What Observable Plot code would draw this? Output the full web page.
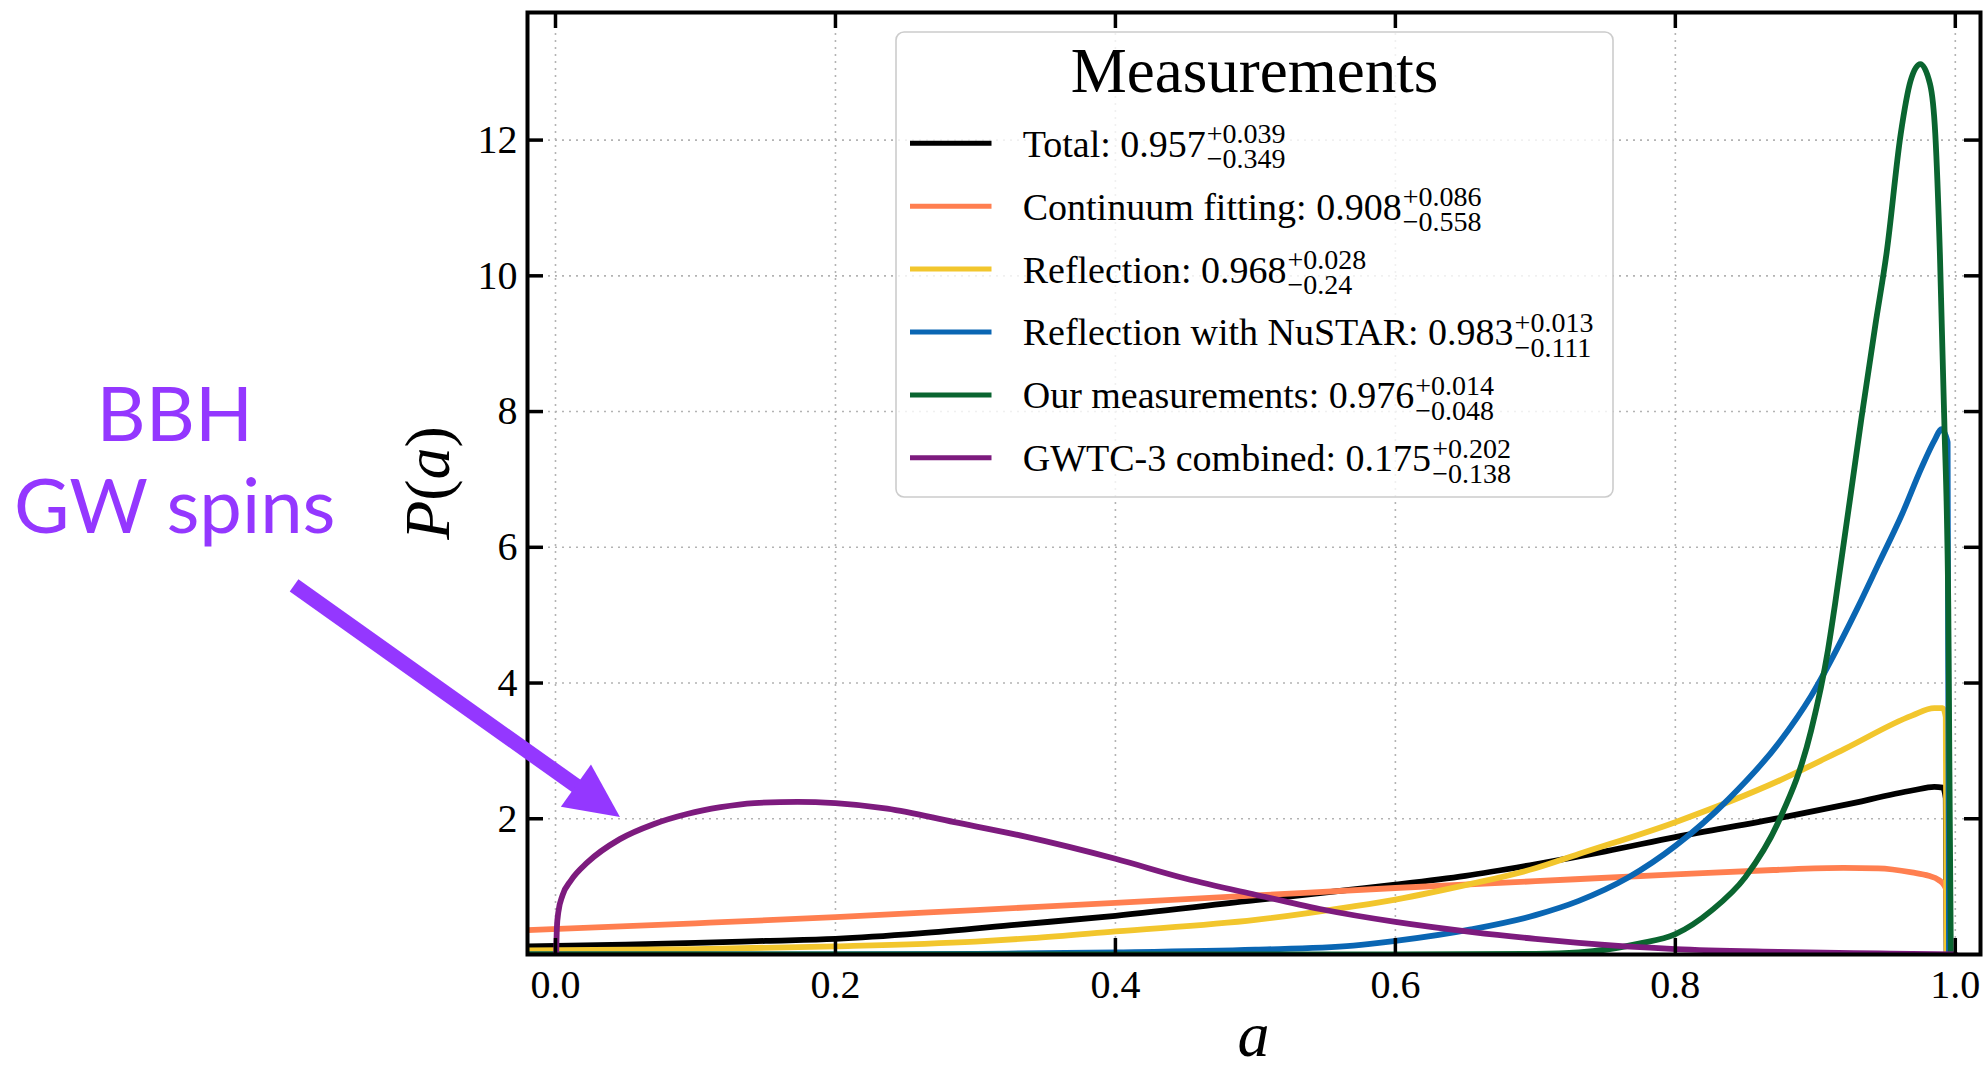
<!DOCTYPE html>
<html>
<head>
<meta charset="utf-8">
<script src="https://cdn.jsdelivr.net/npm/d3@7"></script>
<script src="https://cdn.jsdelivr.net/npm/@observablehq/plot@0.6"></script>
<style>
  html, body { margin: 0; padding: 0; background: #fff; }
  #chart { position: relative; width: 1988px; height: 1068px; }
</style>
</head>
<body>
<div id="chart"></div>
<script>
// ---------------- data ----------------
const seriesNames = ["Total", "Continuum fitting", "Reflection", "Reflection with NuSTAR", "Our measurements", "GWTC-3 combined"];
const medians = ["0.957", "0.908", "0.968", "0.983", "0.976", "0.175"];
const errPlus = ["+0.039", "+0.086", "+0.028", "+0.013", "+0.014", "+0.202"];
const errMinus = ["\u22120.349", "\u22120.558", "\u22120.24", "\u22120.111", "\u22120.048", "\u22120.138"];
const seriesColors = ["#000000", "#ff7f50", "#f2c62d", "#0a66b3", "#0a6530", "#7d1b7e"];

const xTicks = [0, 0.2, 0.4, 0.6, 0.8, 1.0];
const yTicks = [2, 4, 6, 8, 10, 12];

// [a, P(a)]
const total = [[-0.02,0.12],[0.05,0.145],[0.1,0.17],[0.15,0.2],[0.2,0.23],[0.26,0.31],[0.33,0.44],[0.4,0.57],[0.5,0.80],[0.57,0.96],[0.6,1.03],[0.65,1.16],[0.7,1.33],[0.75,1.52],[0.8,1.73],[0.874,2.01],[0.92,2.2],[0.97,2.42],[0.985,2.47],[0.991,2.46],[0.9932,2.3],[0.9938,0]];
const continuum = [[-0.02,0.36],[0.1,0.46],[0.2,0.55],[0.3,0.655],[0.4,0.76],[0.5,0.87],[0.6,0.98],[0.7,1.08],[0.8,1.18],[0.87,1.245],[0.92,1.275],[0.945,1.27],[0.969,1.21],[0.981,1.16],[0.988,1.1],[0.992,1.02],[0.9935,0.95],[0.994,0]];
const reflection = [[-0.02,0.06],[0.1,0.08],[0.2,0.12],[0.3,0.19],[0.34,0.24],[0.4,0.34],[0.5,0.51],[0.57,0.71],[0.6,0.81],[0.654,1.04],[0.7,1.27],[0.731,1.48],[0.8,1.95],[0.874,2.56],[0.921,3.03],[0.969,3.52],[0.985,3.63],[0.991,3.63],[0.9932,3.5],[0.9938,0]];
const nustar = [[-0.02,0],[0.2,0.002],[0.3,0.01],[0.4,0.03],[0.5,0.07],[0.57,0.13],[0.6,0.2],[0.654,0.37],[0.7,0.58],[0.731,0.79],[0.766,1.13],[0.8,1.6],[0.838,2.29],[0.874,3.12],[0.897,3.81],[0.93,5.1],[0.945,5.75],[0.962,6.49],[0.976,7.18],[0.9855,7.59],[0.99,7.74],[0.9945,7.55],[0.9955,0]];
const ours = [[-0.02,0],[0.6,0.001],[0.7,0.01],[0.731,0.03],[0.774,0.16],[0.8,0.30],[0.826,0.65],[0.85,1.14],[0.874,1.97],[0.897,3.30],[0.909,4.48],[0.914,5.15],[0.933,7.91],[0.943,9.29],[0.951,10.35],[0.961,12.09],[0.968,12.87],[0.975,13.12],[0.982,12.82],[0.9857,12.09],[0.989,10.32],[0.9921,7.9],[0.995,5.1],[0.9958,2.7],[0.9968,0]];
const gwtc3 = [[0.0005,0],[0.001,0.4],[0.002,0.62],[0.005,0.87],[0.011,1.09],[0.023,1.36],[0.046,1.70],[0.07,1.92],[0.094,2.07],[0.118,2.17],[0.142,2.23],[0.173,2.25],[0.2,2.23],[0.237,2.15],[0.285,1.95],[0.335,1.74],[0.4,1.41],[0.45,1.12],[0.5,0.88],[0.546,0.67],[0.6,0.48],[0.655,0.33],[0.7,0.23],[0.731,0.17],[0.8,0.08],[0.874,0.04],[0.946,0.015],[1.0,0.0]];

const seriesPoints = [total, continuum, reflection, nustar, ours, gwtc3];

// annotation (data units)
const annotation = {label: "BBH\nGW spins", x: -0.272, y: 6.215};
const arrow = {x1: -0.1864, y1: 5.43, x2: 0.0464, y2: 2.02};
const annotationColor = "#9437ff";

// ---------------- layout ----------------
const W = 1988, H = 1068;
const M = {left: 527, right: 8, top: 12, bottom: 114};
const frameW = W - M.left - M.right;
const frameH = H - M.top - M.bottom;
const tickLen = 16;
const serif = "'Liberation Serif', 'Times New Roman', serif";

const table = seriesNames.flatMap((name, i) => seriesPoints[i].map(([a, p]) => ({name, a, p})));

const measureCtx = document.createElement("canvas").getContext("2d");
function textWidth(s, size) {
  measureCtx.font = `${size}px "Liberation Serif"`;
  return measureCtx.measureText(s).width;
}

function axisLabels(index, scales, values, dims) {
  const g = d3.create("svg:g").attr("font-family", serif).attr("fill", "#000");
  const cx = dims.marginLeft + (dims.width - dims.marginLeft - dims.marginRight) / 2;
  const cy = dims.marginTop + (dims.height - dims.marginTop - dims.marginBottom) / 2;
  const bottom = dims.height - dims.marginBottom;
  g.append("text").attr("x", cx).attr("y", bottom + 102).attr("text-anchor", "middle")
    .attr("font-size", 64).attr("font-style", "italic").text("a");
  const t = g.append("text").attr("transform", `translate(${dims.marginLeft - 78},${cy}) rotate(-90)`)
    .attr("text-anchor", "middle").attr("font-size", 64);
  t.append("tspan").attr("font-style", "italic").text("P");
  t.append("tspan").text("(");
  t.append("tspan").attr("font-style", "italic").text("a");
  t.append("tspan").text(")");
  return g.node();
}

function arrowMark(index, scales) {
  const x1 = scales.x(arrow.x1), y1 = scales.y(arrow.y1), x2 = scales.x(arrow.x2), y2 = scales.y(arrow.y2);
  const dx = x2 - x1, dy = y2 - y1, len = Math.hypot(dx, dy), ux = dx / len, uy = dy / len;
  const L = 54, hw = 26;
  const bx = x2 - L * ux, by = y2 - L * uy;
  const g = d3.create("svg:g");
  g.append("line").attr("x1", x1).attr("y1", y1).attr("x2", bx + ux * 3).attr("y2", by + uy * 3)
    .attr("stroke", annotationColor).attr("stroke-width", 15);
  g.append("path").attr("d", `M${x2},${y2}L${bx - uy * hw},${by + ux * hw}L${bx + uy * hw},${by - ux * hw}Z`)
    .attr("fill", annotationColor);
  return g.node();
}

function legendMark() {
  const box = {x: 896, y: 32, w: 717, h: 465};
  const g = d3.create("svg:g").attr("font-family", serif).attr("fill", "#000").attr("text-anchor", "start");
  g.append("rect").attr("x", box.x).attr("y", box.y).attr("width", box.w).attr("height", box.h)
    .attr("rx", 8).attr("fill", "#fff").attr("fill-opacity", 0.8).attr("stroke", "#cccccc").attr("stroke-width", 1.6);
  g.append("text").attr("x", box.x + box.w / 2).attr("y", 91.5).attr("text-anchor", "middle")
    .attr("font-size", 63).text("Measurements");
  const mainSize = 38, scriptSize = 28;
  seriesNames.forEach((name, i) => {
    const ly = 143.3 + i * 62.9;
    g.append("line").attr("x1", 910).attr("x2", 991.5).attr("y1", ly).attr("y2", ly)
      .attr("stroke", seriesColors[i]).attr("stroke-width", 5);
    const mainText = `${name}: ${medians[i]}`;
    const tx = 1022.7;
    const sx = tx + textWidth(mainText, mainSize) + 1;
    const t = g.append("text").attr("x", tx).attr("y", ly + 13.4).attr("text-anchor", "start")
      .attr("font-size", mainSize);
    t.append("tspan").text(mainText);
    t.append("tspan").attr("x", sx).attr("y", ly).attr("font-size", scriptSize).text(errPlus[i]);
    t.append("tspan").attr("x", sx).attr("y", ly + 25).attr("font-size", scriptSize).text(errMinus[i]);
  });
  return g.node();
}

const gridStyle = {stroke: "#b3b3b3", strokeOpacity: 1, strokeWidth: 1.6, strokeDasharray: "2,5"};
const tickStyle = {stroke: "#000", strokeWidth: 3.5};

const chart = Plot.plot({
  width: W,
  height: H,
  marginLeft: M.left,
  marginRight: M.right,
  marginTop: M.top,
  marginBottom: M.bottom,
  x: {domain: [-0.02, 1.018]},
  y: {domain: [0, 13.88]},
  color: {domain: seriesNames, range: seriesColors},
  style: {fontFamily: serif, background: "#fff", color: "#000", overflow: "visible"},
  marks: [
    Plot.gridX(xTicks, gridStyle),
    Plot.gridY(yTicks, gridStyle),
    Plot.line(table, {x: "a", y: "p", z: "name", stroke: "name", strokeWidth: 5.8, curve: "monotone-x", clip: true}),
    Plot.frame({stroke: "#000", strokeWidth: 4}),
    Plot.tickX(xTicks, {x: d => d, insetTop: frameH - tickLen, ...tickStyle}),
    Plot.tickX(xTicks, {x: d => d, insetBottom: frameH - tickLen, ...tickStyle}),
    Plot.tickY(yTicks, {y: d => d, insetRight: frameW - tickLen, ...tickStyle}),
    Plot.tickY(yTicks, {y: d => d, insetLeft: frameW - tickLen, ...tickStyle}),
    Plot.axisX({ticks: xTicks, tickSize: 0, tickPadding: 15, fontSize: 40, tickFormat: d3.format(".1f"), label: null}),
    Plot.axisY({ticks: yTicks, tickSize: 0, tickPadding: 10, fontSize: 40, label: null}),
    axisLabels,
    Plot.text([annotation], {x: "x", y: "y", text: "label", textAnchor: "middle", lineAnchor: "bottom",
      lineHeight: 1.21, fontSize: 76, fontFamily: "Lato", fill: annotationColor}),
    arrowMark,
    legendMark
  ]
});

document.getElementById("chart").append(chart);
</script>
</body>
</html>
